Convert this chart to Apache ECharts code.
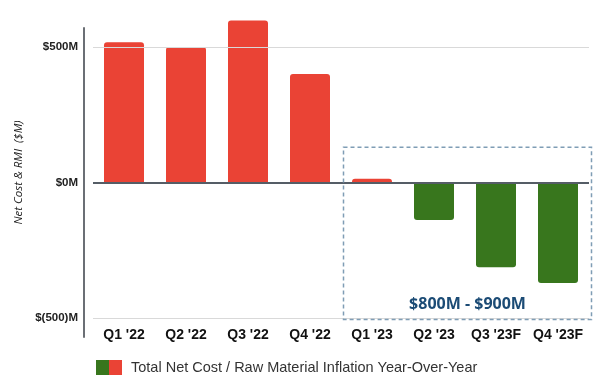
<!DOCTYPE html>
<html><head><meta charset="utf-8">
<script src="https://cdn.jsdelivr.net/npm/echarts@6/dist/echarts.min.js"></script>
<style>html,body{margin:0;padding:0;background:#fff}#c{width:600px;height:381px}</style>
</head><body><div id="c"></div>
<script>
const categories = ["Q1 '22","Q2 '22","Q3 '22","Q4 '22","Q1 '23","Q2 '23","Q3 '23F","Q4 '23F"];
const values = [517, 500, 598, 400, 14, -138, -313, -371];
const yTicks = [-500, 0, 500];
const seriesName = "Total Net Cost / Raw Material Inflation Year-Over-Year";
const boxLabel = "$800M - $900M";
const boxCategories = ["Q1 '23", "Q4 '23F"];
const boxRange = [-505, 130];

const RED = '#EA4335', GREEN = '#38761D';
const fmt = v => v === 0 ? '$0M' : (v < 0 ? '$(' + (-v) + ')M' : '$' + v + 'M');
const iconSvg = '<svg xmlns="http://www.w3.org/2000/svg" width="26" height="15"><rect x="0" y="0" width="13" height="15" fill="' + GREEN + '"/><rect x="13" y="0" width="13" height="15" fill="' + RED + '"/></svg>';
const icon = 'image://data:image/svg+xml;charset=utf-8,' + encodeURIComponent(iconSvg);

const chart = echarts.init(document.getElementById('c'), null, {renderer: 'canvas'});
chart.setOption({
  animation: false,
  grid: {left: 93, right: 11, top: 28, bottom: 44, containLabel: false},
  legend: {
    data: [{name: seriesName, icon: icon}],
    left: 96, top: 360, padding: 0, itemWidth: 26, itemHeight: 15,
    textStyle: {fontFamily: 'Liberation Sans, Arial', fontSize: 14.5, color: '#333', padding: [0,0,0,4]}
  },
  xAxis: {
    type: 'category', data: categories,
    axisLine: {show: false, onZero: false},
    axisTick: {show: false},
    axisLabel: {interval: 0, margin: -9, fontFamily: 'Liberation Sans, Arial', fontWeight: 'bold', fontSize: 14, color: '#111'}
  },
  yAxis: {
    type: 'value', min: -570, max: 570, offset: 9,
    name: 'Net Cost & RMI  ($M)', nameLocation: 'middle', nameGap: 59,
    nameTextStyle: {fontFamily: 'Open Sans', fontStyle: 'italic', fontSize: 11.5, color: '#222', padding: [0,0,0,20]},
    axisLine: {show: true, lineStyle: {color: '#6b6f75', width: 2}},
    axisTick: {show: false},
    splitLine: {show: false},
    axisLabel: {customValues: yTicks, formatter: fmt, margin: 6, fontFamily: 'Liberation Sans, Arial', fontWeight: 'bold', fontSize: 11.5, color: '#222'}
  },
  series: [{
    name: seriesName, type: 'bar', barWidth: 40, clip: false,
    data: values.map(v => ({value: v, itemStyle: {color: v >= 0 ? RED : GREEN, borderRadius: v >= 0 ? [3,3,0,0] : [0,0,3,3]}})),
    markLine: {
      silent: true, symbol: 'none', label: {show: false},
      data: [
        {yAxis: yTicks[2], lineStyle: {color: '#d9d9d9', width: 1, type: 'solid'}},
        {yAxis: yTicks[0], lineStyle: {color: '#d9d9d9', width: 1, type: 'solid'}},
        {yAxis: yTicks[1], lineStyle: {color: '#555d66', width: 2, type: 'solid'}}
      ]
    }
  }]
});

function drawBox() {
  const i0 = categories.indexOf(boxCategories[0]), i1 = categories.indexOf(boxCategories[1]);
  const c0 = chart.convertToPixel({xAxisIndex: 0}, categories[i0]);
  const c1 = chart.convertToPixel({xAxisIndex: 0}, categories[i1]);
  const band = (c1 - c0) / (i1 - i0);
  const x0 = c0 - band / 2 + 2.5, x1 = c1 + band / 2 + 2.5;
  const yTop = chart.convertToPixel({yAxisIndex: 0}, boxRange[1]);
  const yBot = chart.convertToPixel({yAxisIndex: 0}, boxRange[0]);
  chart.setOption({graphic: [
    {type: 'rect', silent: true, z: 100, shape: {x: x0, y: yTop, width: x1 - x0, height: yBot - yTop},
     style: {fill: 'none', stroke: '#7f9db5', lineWidth: 1.5, lineDash: [4, 3]}},
    {type: 'text', silent: true, z: 101, x: (x0 + x1) / 2, y: yBot - 15,
     style: {text: boxLabel, fill: '#1b4b75', font: 'bold 16px "Open Sans"', align: 'center', verticalAlign: 'middle'}}
  ]});
}
drawBox();
</script></body></html>
